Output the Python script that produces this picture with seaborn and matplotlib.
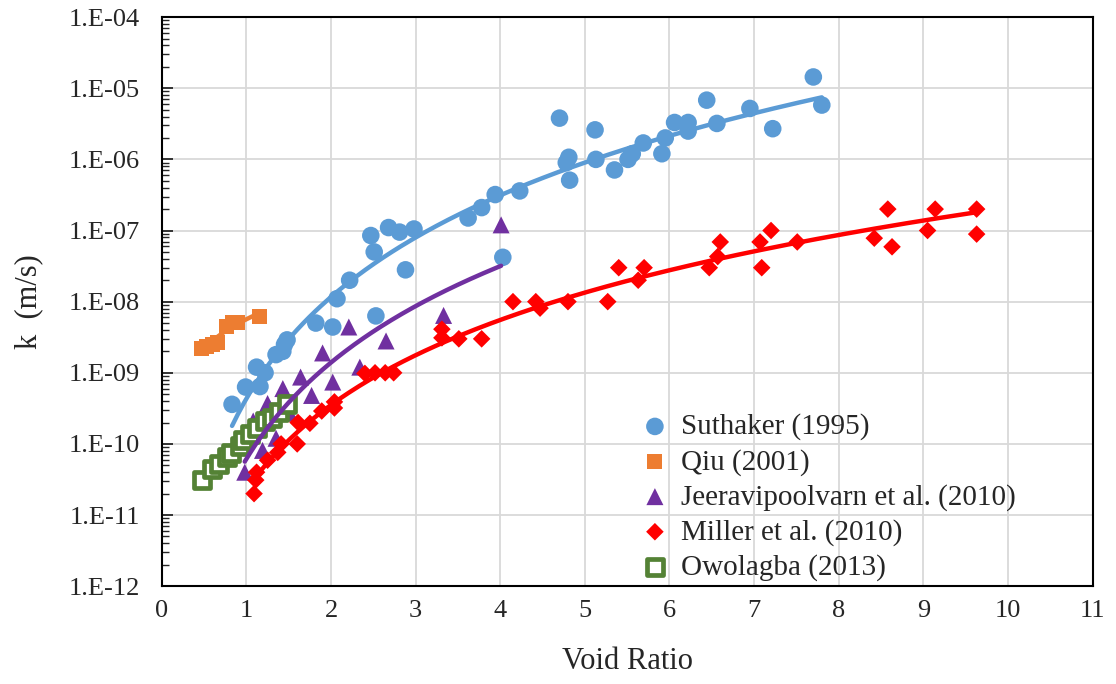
import numpy as np
import pandas as pd
import matplotlib
matplotlib.use("Agg")
import matplotlib.pyplot as plt
import matplotlib.ticker as mticker
import seaborn as sns

# ---------------- data ----------------
suthaker_e = [0.83, 0.99, 1.12, 1.16, 1.22, 1.35, 1.43, 1.45, 1.48, 1.82, 2.02, 2.07, 2.22,
              2.47, 2.51, 2.53, 2.68, 2.81, 2.88, 2.98, 3.62, 3.78, 3.94, 4.03, 4.23, 4.70,
              4.78, 4.81, 4.82, 5.12, 5.13, 5.35, 5.51, 5.56, 5.69, 5.91, 5.95, 6.06, 6.22,
              6.22, 6.44, 6.56, 6.95, 7.22, 7.70, 7.80]
suthaker_k = [3.6e-10, 6.3e-10, 1.2e-9, 6.4e-10, 1.0e-9, 1.8e-9, 2.0e-9, 2.5e-9, 2.9e-9, 5.0e-9,
              4.4e-9, 1.1e-8, 2.0e-8, 8.5e-8, 5.0e-8, 6.3e-9, 1.1e-7, 9.5e-8, 2.8e-8, 1.05e-7,
              1.5e-7, 2.1e-7, 3.2e-7, 4.2e-8, 3.6e-7, 3.8e-6, 9.0e-7, 1.07e-6, 5.1e-7, 2.6e-6,
              1.0e-6, 7.1e-7, 1.0e-6, 1.2e-6, 1.7e-6, 1.2e-6, 2.0e-6, 3.3e-6, 3.3e-6, 2.5e-6,
              6.8e-6, 3.2e-6, 5.2e-6, 2.7e-6, 1.44e-5, 5.8e-6]

qiu_e = [0.47, 0.53, 0.60, 0.66, 0.76, 0.84, 0.89, 1.15]
qiu_k = [2.2e-9, 2.35e-9, 2.5e-9, 2.7e-9, 4.5e-9, 5.1e-9, 5.1e-9, 6.2e-9]

jeera_e = [0.98, 1.08, 1.19, 1.25, 1.35, 1.43, 1.51, 1.64, 1.77, 1.90, 2.02, 2.21, 2.34,
           2.65, 3.33, 4.01]
jeera_k = [4.0e-11, 2.1e-10, 8.1e-11, 3.7e-10, 1.2e-10, 6.0e-10, 2.7e-10, 8.7e-10, 4.8e-10,
           1.9e-9, 7.4e-10, 4.4e-9, 1.2e-9, 2.8e-9, 6.4e-9, 1.2e-7]

miller_e = [1.09, 1.11, 1.12, 1.25, 1.37, 1.41, 1.60, 1.61, 1.75, 1.89, 2.04, 2.04, 2.40,
            2.52, 2.64, 2.74, 3.31, 3.31, 3.51, 3.78, 4.15, 4.42, 4.47, 4.80, 5.27, 5.40,
            5.63, 5.70, 6.47, 6.57, 6.60, 7.07, 7.09, 7.20, 7.51, 8.42, 8.58, 8.63, 9.05,
            9.14, 9.63, 9.63]
miller_k = [2.0e-11, 3.1e-11, 4.0e-11, 5.9e-11, 7.6e-11, 1.0e-10, 1.0e-10, 2.0e-10, 1.95e-10,
            2.9e-10, 3.2e-10, 3.9e-10, 9.8e-10, 1.0e-9, 1.0e-9, 1.0e-9, 4.1e-9, 3.1e-9,
            3.0e-9, 3.0e-9, 1.0e-8, 1.0e-8, 8.1e-9, 1.0e-8, 1.0e-8, 3.0e-8, 2.0e-8, 3.0e-8,
            3.0e-8, 4.3e-8, 6.9e-8, 6.9e-8, 3.0e-8, 1.0e-7, 6.9e-8, 7.8e-8, 2.0e-7, 5.9e-8,
            1.0e-7, 2.0e-7, 2.0e-7, 8.9e-8]

owo_e = [0.48, 0.59, 0.67, 0.77, 0.82, 0.92, 0.96, 1.04, 1.13, 1.22, 1.30, 1.39, 1.48]
owo_k = [3.1e-11, 4.5e-11, 5.3e-11, 6.5e-11, 7.4e-11, 9.4e-11, 1.12e-10, 1.4e-10, 1.7e-10,
         2.1e-10, 2.35e-10, 2.8e-10, 3.6e-10]

labels = ["Suthaker (1995)", "Qiu (2001)", "Jeeravipoolvarn et al. (2010)",
          "Miller et al. (2010)", "Owolagba (2013)"]
x_ticks = list(range(0, 12))
y_ticks = [1e-12, 1e-11, 1e-10, 1e-9, 1e-8, 1e-7, 1e-6, 1e-5, 1e-4]

# ---------------- style ----------------
sns.set_style("white")
plt.rcParams["font.family"] = ["Liberation Serif", "DejaVu Serif"]

BLUE = "#5B9BD5"
ORANGE = "#ED7D31"
PURPLE = "#7030A0"
RED = "#FF0000"
GREEN = "#548235"

fig = plt.figure(figsize=(11.16, 6.84), dpi=100)
ax = fig.add_axes([0.145, 0.143, 0.834, 0.832])


def power_trend(e, k, n=200):
    e = np.asarray(e, float)
    k = np.asarray(k, float)
    b, a = np.polyfit(np.log10(e), np.log10(k), 1)
    xs = np.linspace(e.min(), e.max(), n)
    return pd.DataFrame({"e": xs, "k": 10 ** (a + b * np.log10(xs))})


series = [
    (suthaker_e, suthaker_k, labels[0], BLUE, dict(marker="o", s=160, color=BLUE, edgecolor="none"), True),
    (qiu_e, qiu_k, labels[1], ORANGE, dict(marker="s", s=115, color=ORANGE, edgecolor="none"), True),
    (jeera_e, jeera_k, labels[2], PURPLE, dict(marker="^", s=150, color=PURPLE, edgecolor="none"), True),
    (miller_e, miller_k, labels[3], RED, dict(marker="D", s=80, color=RED, edgecolor="none"), True),
    (owo_e, owo_k, labels[4], GREEN, dict(marker="s", s=120, facecolor="white", edgecolor=GREEN, linewidth=3.4), False),
]

for e, k, lab, col, kw, trend in series:
    df = pd.DataFrame({"e": e, "k": k})
    sns.scatterplot(data=df, x="e", y="k", ax=ax, label=lab, zorder=3, **kw)

for e, k, lab, col, kw, trend in series:
    if trend:
        tdf = power_trend(e, k)
        sns.lineplot(data=tdf, x="e", y="k", ax=ax, color=col, linewidth=3.2,
                     legend=False, zorder=4)

ax.set_yscale("log")
ax.set_xlim(0, 11)
ax.set_ylim(1e-12, 1e-4)
ax.set_xticks(x_ticks)
ax.set_yticks(y_ticks)
ax.yaxis.set_minor_locator(mticker.LogLocator(base=10, subs=np.arange(2, 10), numticks=100))
ax.yaxis.set_minor_formatter(mticker.NullFormatter())
ax.yaxis.set_major_formatter(mticker.FuncFormatter(
    lambda v, p: "1.E-%02d" % int(round(-np.log10(v)))))

ax.grid(True, which="major", color="#D9D9D9", linewidth=1.3, zorder=0)
ax.set_axisbelow(True)

for sp in ax.spines.values():
    sp.set_visible(True)
    sp.set_color("black")
    sp.set_linewidth(1.5)

ax.tick_params(axis="y", which="major", direction="in", length=8, width=1.3,
               labelsize=19, pad=16, left=True, right=False)
ax.tick_params(axis="y", which="minor", direction="in", length=5, width=1.0,
               left=True, right=False)
ax.tick_params(axis="x", which="both", length=0, labelsize=19, pad=10)

ax.set_xlabel("Void Ratio", fontsize=22, labelpad=18)
ax.set_ylabel("k  (m/s)", fontsize=22, labelpad=18)

leg = ax.legend(loc="upper left", bbox_to_anchor=(0.5, 0.324), frameon=False,
                fontsize=21, labelspacing=0.28, handletextpad=0.35,
                borderaxespad=0, handlelength=1.1)

fig.savefig("out.png", dpi=100)
